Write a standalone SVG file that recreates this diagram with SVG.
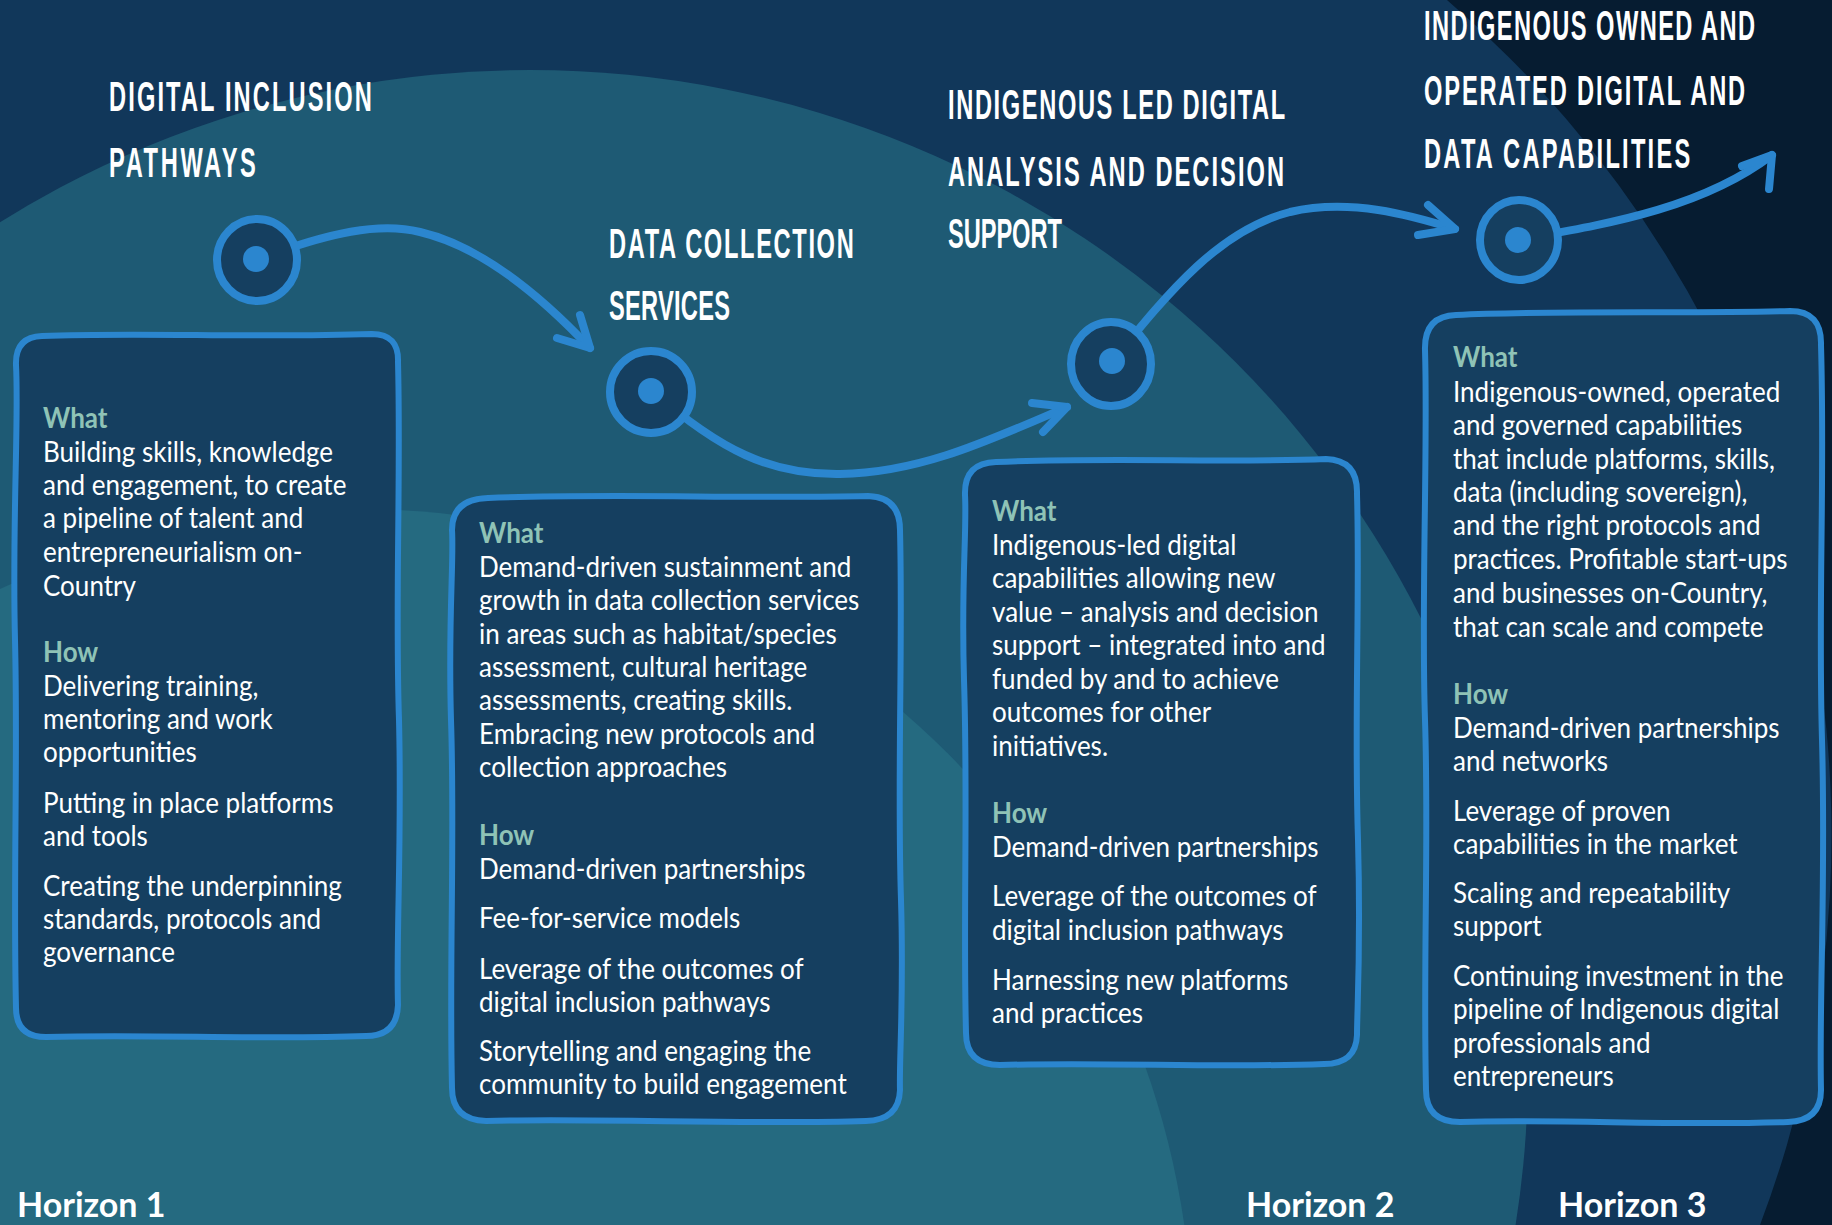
<svg xmlns="http://www.w3.org/2000/svg" width="1832" height="1225" viewBox="0 0 1832 1225">
<style>
.b{font-family:Lato,"Open Sans",sans-serif;font-size:28px;fill:#ffffff}
.h{font-weight:bold;fill:#8fc3b6}
.t{font-family:"Liberation Sans Narrow","Liberation Sans",sans-serif;font-weight:bold;font-size:43px;fill:#ffffff}
.box{fill:#153f60;stroke:#2b86cf;stroke-width:6;stroke-linejoin:round}
.ring{fill:#153f60;stroke:#2b86cf;stroke-width:8}
.dot{fill:#2b86cf}
.conn{fill:none;stroke:#2b86cf;stroke-width:8;stroke-linecap:round;stroke-linejoin:round}
.hz{font-family:Lato,"Open Sans",sans-serif;font-weight:bold;font-size:34px;fill:#ffffff}
</style>
<g id="background">
<rect x="0" y="0" width="1832" height="1225" fill="#11375a"/>
<path d="M1447,0 A1099,1099 0 0 1 1760,1225 L1832,1225 L1832,0 Z" fill="#061c31"/>
<circle cx="530" cy="1068" r="998" fill="#1e5a74"/>
<circle cx="357" cy="1345" r="836" fill="#256a80"/>
</g>
<g id="titles">
<g transform="translate(109 111) scale(0.55 1)"><text class="t" x="0" y="0" textLength="478" lengthAdjust="spacing">DIGITAL INCLUSION</text></g>
<g transform="translate(109 177) scale(0.55 1)"><text class="t" x="0" y="0" textLength="267" lengthAdjust="spacing">PATHWAYS</text></g>
<g transform="translate(609 258) scale(0.55 1)"><text class="t" x="0" y="0" textLength="445" lengthAdjust="spacing">DATA COLLECTION</text></g>
<g transform="translate(609 320) scale(0.55 1)"><text class="t" x="0" y="0" textLength="220" lengthAdjust="spacing">SERVICES</text></g>
<g transform="translate(948 119) scale(0.55 1)"><text class="t" x="0" y="0" textLength="613" lengthAdjust="spacing">INDIGENOUS LED DIGITAL</text></g>
<g transform="translate(948 186) scale(0.55 1)"><text class="t" x="0" y="0" textLength="611" lengthAdjust="spacing">ANALYSIS AND DECISION</text></g>
<g transform="translate(948 248) scale(0.55 1)"><text class="t" x="0" y="0" textLength="207" lengthAdjust="spacing">SUPPORT</text></g>
<g transform="translate(1424 40) scale(0.55 1)"><text class="t" x="0" y="0" textLength="602" lengthAdjust="spacing">INDIGENOUS OWNED AND</text></g>
<g transform="translate(1424 105) scale(0.55 1)"><text class="t" x="0" y="0" textLength="584" lengthAdjust="spacing">OPERATED DIGITAL AND</text></g>
<g transform="translate(1424 168) scale(0.55 1)"><text class="t" x="0" y="0" textLength="484" lengthAdjust="spacing">DATA CAPABILITIES</text></g>
</g>
<g id="connectors">
<path class="conn" d="M256,260 C330,232 380,222 420,232 C480,246 540,295 590,348"/>
<path class="conn" d="M580,315 L590,348 L557,338"/>
<path class="conn" d="M652,391 C720,450 770,475 840,474 C920,473 990,440 1067,407"/>
<path class="conn" d="M1032,403 L1067,407 L1043,432"/>
<path class="conn" d="M1112,362 C1170,290 1220,230 1290,212 C1350,198 1410,215 1455,229"/>
<path class="conn" d="M1428,205 L1455,229 L1418,235"/>
<path class="conn" d="M1518,240 C1600,225 1700,210 1772,155"/>
<path class="conn" d="M1742,166 L1772,155 L1769,189"/>
</g>
<g id="node-1-marker"><ellipse class="ring" cx="257" cy="260" rx="40" ry="41"/><circle class="dot" cx="256" cy="259" r="13"/></g>
<g id="node-2-marker"><ellipse class="ring" cx="651" cy="392" rx="41" ry="41"/><circle class="dot" cx="651" cy="391" r="13"/></g>
<g id="node-3-marker"><ellipse class="ring" cx="1111" cy="364" rx="40" ry="42"/><circle class="dot" cx="1112" cy="361" r="13"/></g>
<g id="node-4-marker"><ellipse class="ring" cx="1519" cy="240" rx="39" ry="40"/><circle class="dot" cx="1518" cy="240" r="13"/></g>
<g id="box-1">
<path class="box" d="M42,336 C140,332 250,338 372,334 Q399,334 398,362 C401,480 395,600 399,720 C402,840 396,940 398,1005 Q397,1036 366,1036 C260,1040 150,1034 46,1037 Q16,1037 16,1008 C13,880 18,760 15,640 C12,520 19,420 16,365 Q15,337 42,336 Z"/>
<g transform="translate(43 0) scale(0.93 1)">
<text class="b"><tspan class="h" x="0" y="428">What</tspan><tspan x="0" y="462">Building skills, knowledge</tspan><tspan x="0" y="495">and engagement, to create</tspan><tspan x="0" y="528">a pipeline of talent and</tspan><tspan x="0" y="562">entrepreneurialism on-</tspan><tspan x="0" y="596">Country</tspan><tspan class="h" x="0" y="662">How</tspan><tspan x="0" y="696">Delivering training,</tspan><tspan x="0" y="729">mentoring and work</tspan><tspan x="0" y="762">opportunities</tspan><tspan x="0" y="813">Putting in place platforms</tspan><tspan x="0" y="846">and tools</tspan><tspan x="0" y="896">Creating the underpinning</tspan><tspan x="0" y="929">standards, protocols and</tspan><tspan x="0" y="962">governance</tspan></text>
</g>
</g>
<g id="box-2">
<path class="box" d="M488,498 C600,493 750,499 868,496 Q900,497 900,530 C903,650 897,780 901,900 C904,1000 899,1060 900,1090 Q899,1120 866,1121 C750,1125 600,1118 486,1121 Q452,1120 452,1088 C449,960 455,840 451,720 C448,620 454,560 452,530 Q452,499 488,498 Z"/>
<g transform="translate(479 0) scale(0.93 1)">
<text class="b"><tspan class="h" x="0" y="543">What</tspan><tspan x="0" y="577">Demand-driven sustainment and</tspan><tspan x="0" y="610">growth in data collection services</tspan><tspan x="0" y="644">in areas such as habitat/species</tspan><tspan x="0" y="677">assessment, cultural heritage</tspan><tspan x="0" y="710">assessments, creating skills.</tspan><tspan x="0" y="744">Embracing new protocols and</tspan><tspan x="0" y="777">collection approaches</tspan><tspan class="h" x="0" y="845">How</tspan><tspan x="0" y="879">Demand-driven partnerships</tspan><tspan x="0" y="928">Fee-for-service models</tspan><tspan x="0" y="979">Leverage of the outcomes of</tspan><tspan x="0" y="1012">digital inclusion pathways</tspan><tspan x="0" y="1061">Storytelling and engaging the</tspan><tspan x="0" y="1094">community to build engagement</tspan></text>
</g>
</g>
<g id="box-3">
<path class="box" d="M996,462 C1100,457 1230,463 1326,459 Q1358,460 1357,494 C1360,600 1354,720 1358,840 C1361,950 1357,1010 1357,1035 Q1356,1064 1324,1064 C1220,1068 1110,1062 1000,1065 Q966,1065 966,1033 C963,920 968,800 964,680 C961,580 967,530 965,495 Q964,463 996,462 Z"/>
<g transform="translate(992 0) scale(0.93 1)">
<text class="b"><tspan class="h" x="0" y="521">What</tspan><tspan x="0" y="555">Indigenous-led digital</tspan><tspan x="0" y="588">capabilities allowing new</tspan><tspan x="0" y="622">value – analysis and decision</tspan><tspan x="0" y="655">support – integrated into and</tspan><tspan x="0" y="689">funded by and to achieve</tspan><tspan x="0" y="722">outcomes for other</tspan><tspan x="0" y="756">initiatives.</tspan><tspan class="h" x="0" y="823">How</tspan><tspan x="0" y="857">Demand-driven partnerships</tspan><tspan x="0" y="906">Leverage of the outcomes of</tspan><tspan x="0" y="940">digital inclusion pathways</tspan><tspan x="0" y="990">Harnessing new platforms</tspan><tspan x="0" y="1023">and practices</tspan></text>
</g>
</g>
<g id="box-4">
<path class="box" d="M1456,315 C1560,310 1700,314 1790,311 Q1822,311 1821,345 C1825,480 1818,600 1822,740 C1826,880 1819,1000 1821,1090 Q1821,1121 1788,1122 C1680,1126 1560,1119 1460,1122 Q1426,1122 1426,1090 C1423,960 1429,840 1425,720 C1421,600 1428,450 1425,350 Q1424,316 1456,315 Z"/>
<g transform="translate(1453 0) scale(0.93 1)">
<text class="b"><tspan class="h" x="0" y="367">What</tspan><tspan x="0" y="402">Indigenous-owned, operated</tspan><tspan x="0" y="435">and governed capabilities</tspan><tspan x="0" y="469">that include platforms, skills,</tspan><tspan x="0" y="502">data (including sovereign),</tspan><tspan x="0" y="535">and the right protocols and</tspan><tspan x="0" y="569">practices. Profitable start-ups</tspan><tspan x="0" y="603">and businesses on-Country,</tspan><tspan x="0" y="637">that can scale and compete</tspan><tspan class="h" x="0" y="704">How</tspan><tspan x="0" y="738">Demand-driven partnerships</tspan><tspan x="0" y="771">and networks</tspan><tspan x="0" y="821">Leverage of proven</tspan><tspan x="0" y="854">capabilities in the market</tspan><tspan x="0" y="903">Scaling and repeatability</tspan><tspan x="0" y="936">support</tspan><tspan x="0" y="986">Continuing investment in the</tspan><tspan x="0" y="1019">pipeline of Indigenous digital</tspan><tspan x="0" y="1053">professionals and</tspan><tspan x="0" y="1086">entrepreneurs</tspan></text>
</g>
</g>
<g id="horizon-labels">
<text class="hz" x="17" y="1217">Horizon 1</text>
<text class="hz" x="1246" y="1217">Horizon 2</text>
<text class="hz" x="1558" y="1217">Horizon 3</text>
</g>
</svg>
